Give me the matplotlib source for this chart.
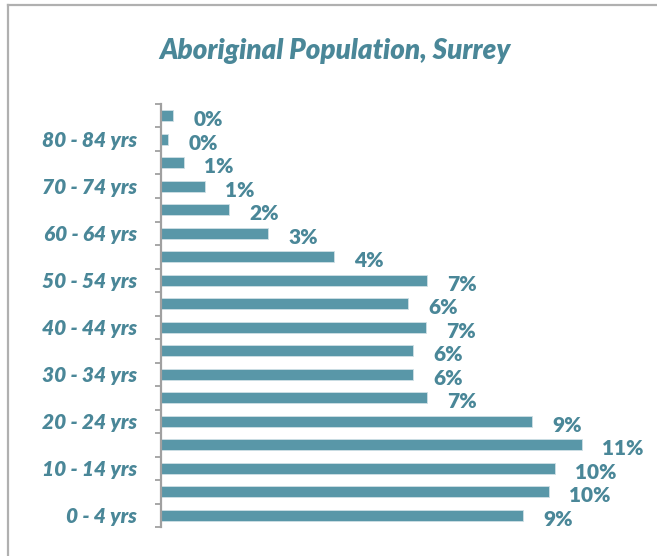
import matplotlib
matplotlib.use("Agg")
import matplotlib.pyplot as plt
from matplotlib.lines import Line2D
import numpy as np

# age groups, bottom to top
age_groups = [
    "0 - 4 yrs", "5 - 9 yrs", "10 - 14 yrs", "15 - 19 yrs", "20 - 24 yrs",
    "25 - 29 yrs", "30 - 34 yrs", "35 - 39 yrs", "40 - 44 yrs", "45 - 49 yrs",
    "50 - 54 yrs", "55 - 59 yrs", "60 - 64 yrs", "65 - 69 yrs", "70 - 74 yrs",
    "75 - 79 yrs", "80 - 84 yrs", "85+ yrs",
]
# share of population (%)
shares = [9.46, 10.14, 10.3, 11.0, 9.69, 6.95, 6.58, 6.58, 6.92, 6.45,
          6.95, 4.53, 2.8, 1.78, 1.16, 0.6, 0.19, 0.32]
# labels as printed on the chart
share_labels = ["9%", "10%", "10%", "11%", "9%", "7%", "6%", "6%", "7%", "6%",
                "7%", "4%", "3%", "2%", "1%", "1%", "0%", "0%"]

bar_color = "#5997a8"
text_color = "#4a8798"
grey = "#a0a0a0"

plt.rcParams["font.family"] = ["Lato", "DejaVu Sans"]

fig = plt.figure(figsize=(6.57, 5.56), dpi=100)
ax = fig.add_axes([0.245, 0.052, 0.699, 0.761])

y = np.arange(len(age_groups))
ax.barh(y, shares, height=0.47, color=bar_color, edgecolor="#cfe0e5", linewidth=0.6)

for yi, v, lab in zip(y, shares, share_labels):
    ax.annotate(lab, (v, yi), xytext=(14.5, -3), textcoords="offset points",
                ha="left", va="center", fontsize=15, fontweight="heavy",
                color=text_color, annotation_clip=False)

ax.set_xlim(0, 12)
ax.set_ylim(-0.5, len(age_groups) - 0.5)

# labels on every other group, ticks between bars
ax.set_yticks(y[::2])
ax.set_yticklabels(age_groups[::2], fontsize=15, fontweight="heavy",
                   fontstyle="italic", color=text_color)
ax.set_yticks(np.arange(-0.5, len(age_groups)), minor=True)
ax.tick_params(axis="y", which="major", length=0, pad=17)
ax.tick_params(axis="y", which="minor", length=4.5, width=1.3, color=grey,
               direction="out")
ax.set_xticks([])

for side in ["top", "right", "bottom"]:
    ax.spines[side].set_visible(False)
ax.spines["left"].set_color(grey)
ax.spines["left"].set_linewidth(1.6)

fig.text(0.51, 0.908, "Aboriginal Population, Surrey", ha="center", va="center",
         fontsize=20, fontstyle="italic", fontweight="heavy", color=text_color)

# outer frame (left and top only)
fig.add_artist(Line2D([8 / 657, 8 / 657], [0, 1 - 5 / 556], color="#b0b0b0",
                      linewidth=1.6, transform=fig.transFigure))
fig.add_artist(Line2D([8 / 657, 1], [1 - 5 / 556, 1 - 5 / 556], color="#b0b0b0",
                      linewidth=1.6, transform=fig.transFigure))

fig.savefig("out.png", dpi=100)
